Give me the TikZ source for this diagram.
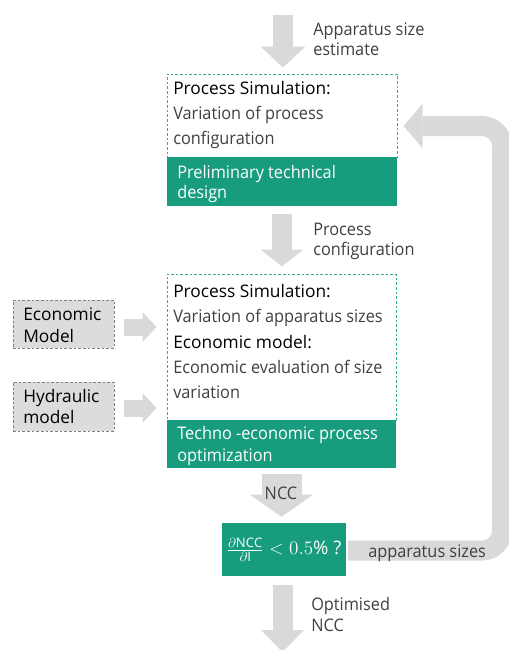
\documentclass[tikz,border=0pt]{standalone}
\usepackage{fontspec}
\setmainfont{Open Sans}
\newfontfamily\bodyfont[FakeStretch=0.94]{Open Sans}
\usetikzlibrary{arrows.meta}
\definecolor{fgreen}{HTML}{179C7D}
\definecolor{dgreen}{HTML}{3AAA8C}
\definecolor{arrgray}{HTML}{D9D9D9}
\definecolor{boxgray}{HTML}{DCDCDC}
\definecolor{boxline}{HTML}{808080}
\definecolor{txt}{HTML}{404040}
\begin{document}
\begin{tikzpicture}[x=0.75pt,y=-0.75pt,
  wbox/.style={draw=dgreen, line width=0.75pt, dash pattern=on 2pt off 1.5pt, fill=white, inner sep=0pt},
  gbox/.style={fill=fgreen, draw=none, inner sep=0pt},
  greybox/.style={fill=boxgray, draw=boxline, line width=0.75pt, dash pattern=on 2pt off 1.5pt, inner sep=0pt},
  head/.style={anchor=base west, inner sep=0pt, text=black, font=\fontsize{13pt}{15pt}\selectfont},
  body/.style={anchor=base west, inner sep=0pt, text=txt, font=\bodyfont\fontsize{13pt}{15pt}\selectfont},
  wtext/.style={anchor=base west, inner sep=0pt, text=white, font=\bodyfont\fontsize{13pt}{15pt}\selectfont},
  fat/.style={draw=arrgray, line width=15pt, -{Triangle[width=33.75pt,length=15.75pt,line width=0pt]}},
  side/.style={draw=arrgray, line width=12.75pt, -{Triangle[width=22.5pt,length=10.5pt,line width=0pt]}},
  loop/.style={draw=arrgray, line width=15pt, rounded corners=15pt, -{Triangle[width=33pt,length=14.25pt,line width=0pt]}}
]
\useasboundingbox (0,0) rectangle (508,650);

% boxes
\node[wbox, minimum width=172.5pt, minimum height=62.25pt] (b1) at (282,115.5) {};
\node[gbox, minimum width=172.5pt, minimum height=36.75pt] (b1g) at (282,181.5) {};
\node[wbox, minimum width=171.75pt, minimum height=109.5pt] (b2) at (281.5,347) {};
\node[gbox, minimum width=171.75pt, minimum height=36pt] (b2g) at (281.5,444) {};
\node[gbox, minimum width=93pt, minimum height=39.75pt] (dec) at (284,549.5) {};
\node[greybox, minimum width=75.75pt, minimum height=36pt] (eco) at (63.5,324) {};
\node[greybox, minimum width=75.75pt, minimum height=36.75pt] (hyd) at (63.5,406.5) {};

% texts box 1
\node[head] (t1a) at (173,94) {Process Simulation:};
\node[body] (t1b) at (173,119) {Variation of process};
\node[body] (t1c) at (173,144) {configuration};
\node[wtext] (t1d) at (177,178) {Preliminary technical};
\node[wtext] (t1e) at (177,198) {design};

% texts box 2
\node[head] (t2a) at (173,297) {Process Simulation:};
\node[body] (t2b) at (173,322) {Variation of apparatus sizes};
\node[head] (t2c) at (173,348) {Economic model:};
\node[body] (t2d) at (173,373) {Economic evaluation of size};
\node[body] (t2e) at (173,398) {variation};
\node[wtext] (t2f) at (177,439) {Techno -economic process};
\node[wtext] (t2g) at (177,461) {optimization};

% side boxes text
\node[head] (te1) at (23,320) {Economic};
\node[head] (te2) at (23,342) {Model};
\node[head] (th1) at (23,402) {Hydraulic};
\node[head] (th2) at (23,423) {model};

% arrows
\coordinate (topin) at (283,15);
\draw[fat] (topin) -- (topin |- b1.north) [shorten >=4.5pt];
\coordinate (midin) at (282,214);
\draw[fat, -{Triangle[width=32.25pt,length=12.75pt,line width=0pt]}, shorten >=5.25pt] (midin) -- (midin |- b2.north);
\coordinate (nccin) at (281.5,474);
\draw[fat, line width=30pt, -{Triangle[width=47.25pt,length=16.5pt,line width=0pt]}, shorten >=4.5pt] (nccin) -- (nccin |- dec.north);
\coordinate (outend) at (282.5,652);
\draw[fat, -{Triangle[width=32.25pt,length=16.5pt,line width=0pt]}, shorten <=6.75pt] (outend |- dec.south) -- (outend);
\coordinate (ecoin) at (124,327);
\draw[side, shorten >=7.5pt] (ecoin) -- (ecoin -| b2.west);
\coordinate (hydin) at (124,408);
\draw[side, shorten >=7.5pt] (hydin) -- (hydin -| b2.west);

% loop
\coordinate (lp0) at (348,550.5);
\coordinate (lp1) at (502,550.5);
\coordinate (lp2) at (502,126);
\draw[loop, shorten >=4.5pt] (lp0) -- (lp1) -- (lp2) -- (lp2 -| b1.east);

% labels
\node[body] (l1a) at (313,35) {Apparatus size};
\node[body] (l1b) at (313,55) {estimate};
\node[body] (l2a) at (313,235) {Process};
\node[body] (l2b) at (313,255) {configuration};
\node[body, anchor=base] (l3) at (281,499) {NCC};
\node[body] (l4) at (368,557) {apparatus sizes};
\node[body] (l5a) at (311,610.5) {Optimised};
\node[body] (l5b) at (311,631.5) {NCC};

% decision text
\node[text=white, inner sep=0pt, font=\fontsize{14pt}{16pt}\selectfont] (dt) at (dec.center) {$\frac{\partial\mathrm{NCC}}{\partial\mathrm{I}} < 0.5\%$ ?};
\end{tikzpicture}
\end{document}
